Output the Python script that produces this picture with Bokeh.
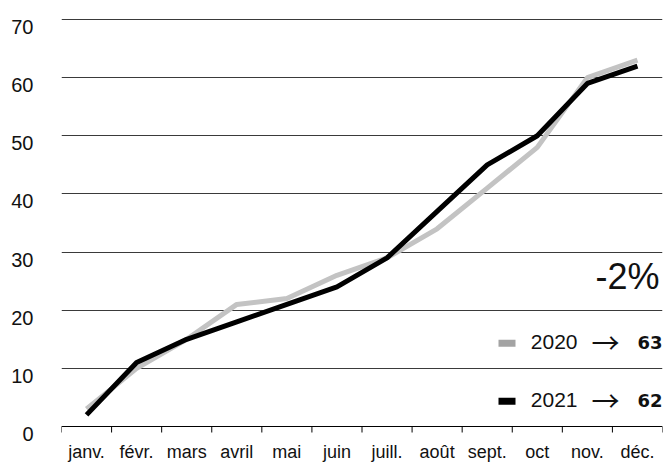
from bokeh.plotting import figure
from bokeh.models import Range1d, FixedTicker, Label, Span
from bokeh.embed import file_html
from bokeh.resources import INLINE

months = ["janv.", "févr.", "mars", "avril", "mai", "juin",
          "juill.", "août", "sept.", "oct", "nov.", "déc."]
s2020 = [3, 10, 15, 21, 22, 26, 29, 34, 41, 48, 60, 63]
s2021 = [2, 11, 15, 18, 21, 24, 29, 37, 45, 50, 59, 62]
y_ticks = [0, 10, 20, 30, 40, 50, 60, 70]
series_names = ["2020", "2021"]
series_colors = ["#c3c3c3", "#000000"]
swatch_colors = ["#a3a3a3", "#000000"]

FONT = "Liberation Sans"
xs = list(range(1, len(months) + 1))

W, H = 665, 464
ZERO_PX, TOP_PX = 426, 19           # pixel rows of 0 and 70
PX_PER_Y = (ZERO_PX - TOP_PX) / 70
BL, BR, BT, BB = 61, 3, 17, 30
y_lo = -(H - BB - ZERO_PX) / PX_PER_Y
y_hi = 70 + (TOP_PX - BT) / PX_PER_Y

p = figure(width=W, height=H, output_backend="svg", toolbar_location=None,
           x_range=Range1d(0.5, len(months) + 0.5), y_range=Range1d(y_lo, y_hi),
           min_border_left=BL, min_border_right=BR, min_border_top=BT, min_border_bottom=BB)
p.outline_line_color = None
p.background_fill_color = "white"
p.border_fill_color = "white"

# horizontal grid lines
p.xgrid.grid_line_color = None
p.ygrid.ticker = FixedTicker(ticks=y_ticks[1:])
p.ygrid.grid_line_color = "#3a3a3a"
p.ygrid.grid_line_width = 1

# y axis labels sit a little below their grid line
lbl_shift = 7.5 / PX_PER_Y
y_lbl_pos = [round(t - lbl_shift, 3) for t in y_ticks]
p.yaxis.ticker = FixedTicker(ticks=y_lbl_pos)
p.yaxis.major_label_overrides = {pos: str(t) for pos, t in zip(y_lbl_pos, y_ticks)}
p.yaxis.axis_line_color = None
p.yaxis.major_tick_line_color = None
p.yaxis.minor_tick_line_color = None
p.yaxis.major_tick_out = 0
p.yaxis.major_label_standoff = 28
p.yaxis.major_label_text_font = FONT
p.yaxis.major_label_text_font_size = "20px"
p.yaxis.major_label_text_color = "#111111"

# baseline at 0 with ticks between months
p.add_layout(Span(location=0, dimension="width", line_color="black", line_width=1))
bounds = [x - 0.5 for x in xs] + [len(xs) + 0.5]
p.segment(x0=bounds, y0=[0] * len(bounds), x1=bounds, y1=[-6 / PX_PER_Y] * len(bounds),
          line_color="black", line_width=1)

# x axis: labels only
p.xaxis.ticker = FixedTicker(ticks=xs)
p.xaxis.major_label_overrides = {x: m for x, m in zip(xs, months)}
p.xaxis.axis_line_color = None
p.xaxis.major_tick_line_color = None
p.xaxis.minor_tick_line_color = None
p.xaxis.major_tick_out = 0
p.xaxis.major_tick_in = 0
p.xaxis.major_label_text_font = FONT
p.xaxis.major_label_text_font_size = "18px"
p.xaxis.major_label_text_color = "#111111"
p.xaxis.major_label_standoff = 7

# lines
p.line(xs, s2020, line_color=series_colors[0], line_width=5)
p.line(xs, s2021, line_color=series_colors[1], line_width=5)

# annotations (right side)
x_right = len(months) + 0.5
px_per_x = (W - BL - BR) / len(months)

last = [s2020[-1], s2021[-1]]
pct = round((last[1] - last[0]) / last[0] * 100)
p.add_layout(Label(x=x_right, y=(ZERO_PX - 275.5) / PX_PER_Y, x_offset=-3, text=f"{pct}%",
                   text_align="right", text_baseline="middle",
                   text_font=FONT, text_font_size="36px", text_color="#111111"))

row_px = [341.5, 399.5]
for i in range(2):
    yv = (ZERO_PX - row_px[i]) / PX_PER_Y
    p.rect(x=[x_right - (662 - 506.5) / px_per_x], y=[yv - 0.2], width=17, height=7,
           width_units="screen", height_units="screen",
           fill_color=swatch_colors[i], line_color=None)
    p.add_layout(Label(x=x_right, y=yv, x_offset=-85, text=series_names[i],
                       text_align="right", text_baseline="middle",
                       text_font=FONT, text_font_size="21px", text_color="#111111"))
    p.add_layout(Label(x=x_right, y=yv, x_offset=-43, text="→",
                       text_align="right", text_baseline="middle",
                       text_font="Noto Sans CJK JP", text_font_size="28px", text_color="#111111"))
    p.add_layout(Label(x=x_right, y=yv, text=str(last[i]),
                       text_align="right", text_baseline="middle",
                       text_font="DejaVu Sans", text_font_size="18px", text_font_style="bold",
                       text_color="#111111"))

open("out.html", "w").write(file_html(p, INLINE))
